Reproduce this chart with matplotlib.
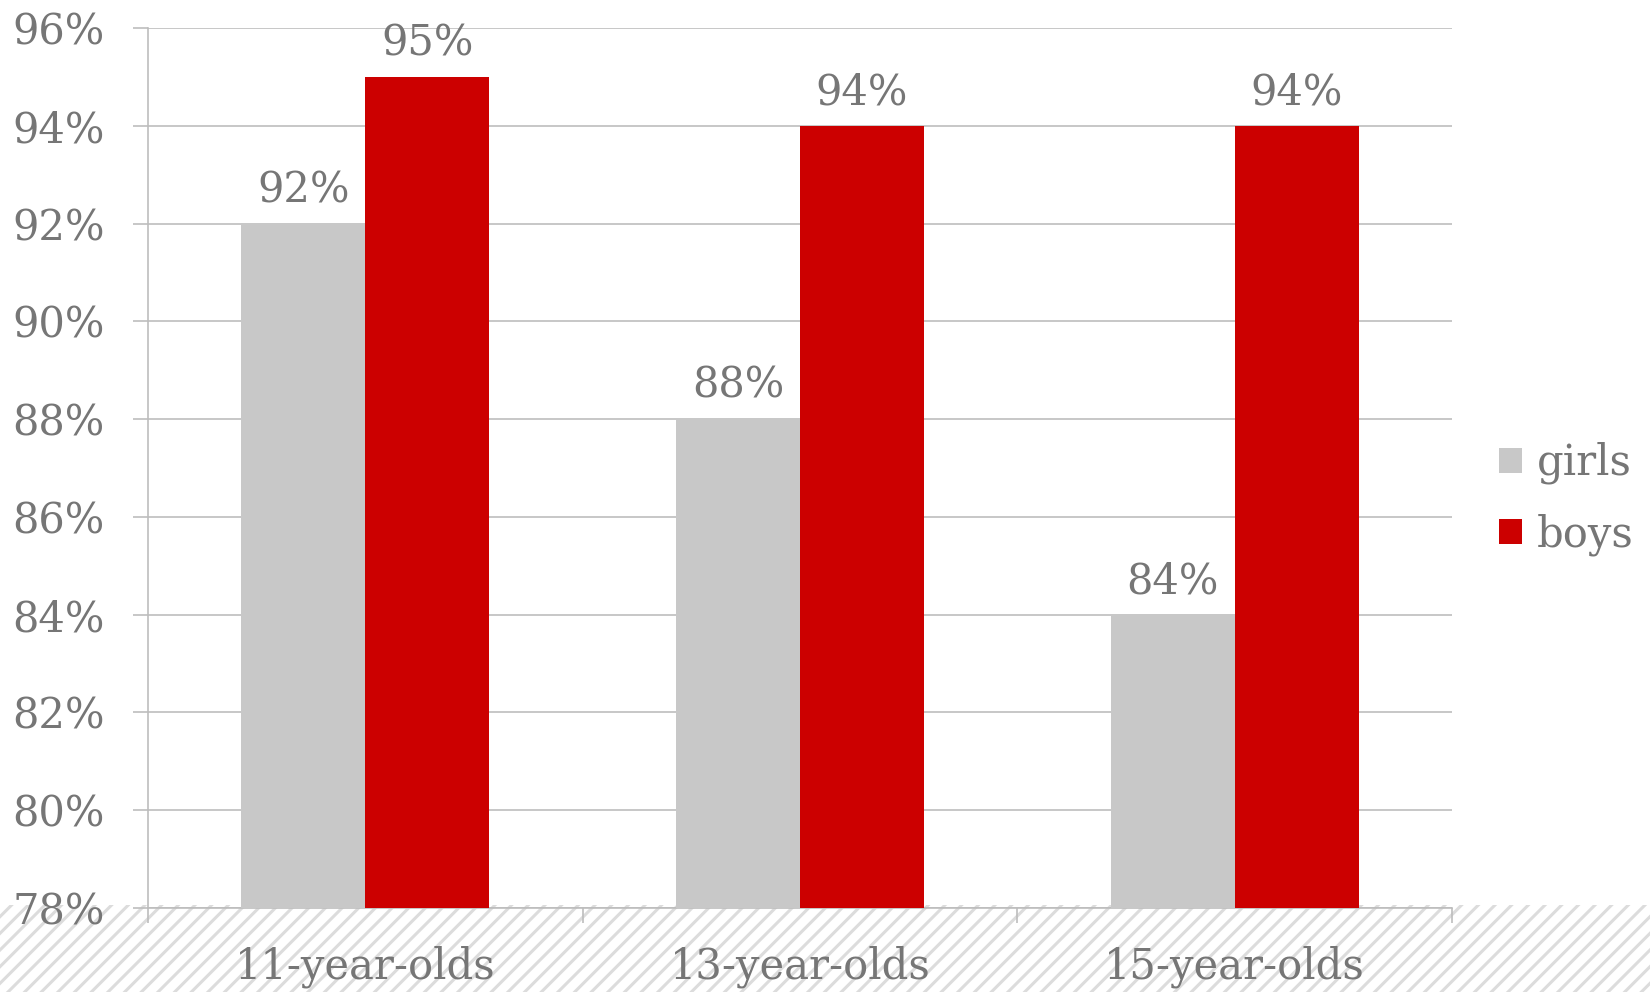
import matplotlib.pyplot as plt
import numpy as np
from matplotlib.patches import Rectangle

# Share of pupils, by age group and sex
categories = ["11-year-olds", "13-year-olds", "15-year-olds"]
girls = [92, 88, 84]
boys = [95, 94, 94]
series_names = ["girls", "boys"]
y_ticks = list(range(78, 97, 2))

GIRLS_COLOUR = "#C8C8C8"
BOYS_COLOUR = "#CC0000"
TEXT_COLOUR = "#767676"
LINE_COLOUR = "#BDBDBD"

plt.rcParams["font.family"] = ["DejaVu Serif"]
plt.rcParams["hatch.linewidth"] = 2.2

fig = plt.figure(figsize=(16.5, 9.92), dpi=100)

# hatched strip along the bottom of the figure, behind the axes
fig.patches.append(
    Rectangle((0, 0), 1, 87 / 992, transform=fig.transFigure,
              facecolor="white", edgecolor="#DCDCDC", hatch="//",
              lw=0, zorder=-5)
)

ax = fig.add_axes([148 / 1650, 84 / 992, (1452 - 148) / 1650, (908 - 28) / 992])
ax.set_facecolor("none")

x = np.arange(len(categories))
w = 0.285
b1 = ax.bar(x - w / 2, girls, w, color=GIRLS_COLOUR, label=series_names[0], zorder=3)
b2 = ax.bar(x + w / 2, boys, w, color=BOYS_COLOUR, label=series_names[1], zorder=3)

for bars in (b1, b2):
    ax.bar_label(bars, labels=[f"{v:g}%" for v in bars.datavalues],
                 padding=9, fontsize=30, color=TEXT_COLOUR)

ax.set_xlim(-0.5, len(categories) - 0.5)
ax.set_ylim(78, 96)
ax.set_yticks(y_ticks)
ax.set_yticklabels([f"{v}%" for v in y_ticks])
ax.set_xticks(x)
ax.set_xticklabels(categories)
ax.set_xticks(np.arange(len(categories) + 1) - 0.5, minor=True)

ax.grid(axis="y", color=LINE_COLOUR, lw=1.2, zorder=1)
ax.tick_params(axis="y", length=11, width=1.2, color=LINE_COLOUR,
               labelsize=30, labelcolor=TEXT_COLOUR, pad=20)
ax.tick_params(axis="x", which="major", length=0, labelsize=30,
               labelcolor=TEXT_COLOUR, pad=27)
ax.tick_params(axis="x", which="minor", length=11, width=1.2, color=LINE_COLOUR)

for side in ("top", "right"):
    ax.spines[side].set_visible(False)
for side in ("left", "bottom"):
    ax.spines[side].set_color(LINE_COLOUR)
    ax.spines[side].set_linewidth(1.2)

leg = fig.legend(loc="center left", bbox_to_anchor=(0.886, 0.497),
                 frameon=False, fontsize=30, handlelength=0.55,
                 handleheight=0.55, handletextpad=0.35, labelspacing=0.7)
for t in leg.get_texts():
    t.set_color(TEXT_COLOUR)

fig.savefig("out.png", dpi=100)
plt.close(fig)
